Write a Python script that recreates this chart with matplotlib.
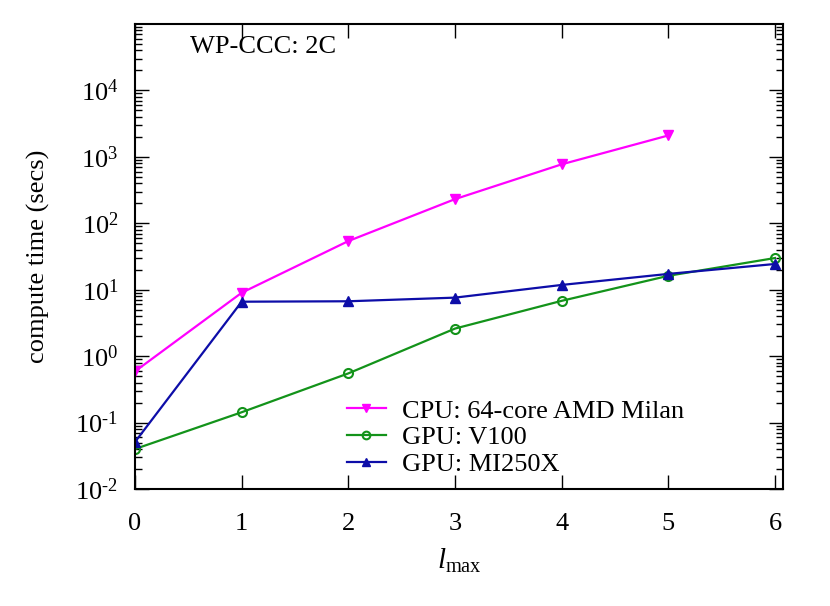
import numpy as np
import matplotlib
matplotlib.use('Agg')
import matplotlib.pyplot as plt
from matplotlib.ticker import LogLocator, NullFormatter

plt.rcParams['font.family'] = ['Liberation Serif', 'DejaVu Serif']
plt.rcParams['mathtext.fontset'] = 'custom'
plt.rcParams['mathtext.rm'] = 'Liberation Serif'
plt.rcParams['mathtext.it'] = 'Liberation Serif:italic'

lmax = [0, 1, 2, 3, 4, 5, 6]
cpu_lmax = [0, 1, 2, 3, 4, 5]
cpu_milan = [0.59, 9.0, 54, 231, 772, 2100]
gpu_v100 = [0.040, 0.143, 0.55, 2.6, 6.8, 16.2, 30]
gpu_mi250x = [0.051, 6.6, 6.7, 7.6, 11.8, 17.3, 24.4]
ytick_vals = [1e-2, 1e-1, 1e0, 1e1, 1e2, 1e3, 1e4]
ytick_labels = ['10$^{\\text{-}2}$', '10$^{\\text{-}1}$', '10$^{0}$', '10$^{1}$',
                '10$^{2}$', '10$^{3}$', '10$^{4}$']

fig = plt.figure(figsize=(8.3, 6.06), dpi=100)
ax = fig.add_axes([135/830, 1 - 489/606, 648/830, 465/606])

ax.plot(cpu_lmax, cpu_milan, color='#ff00ff', marker='v', ms=7, lw=1.6,
        label='CPU: 64-core AMD Milan')
ax.plot(lmax, gpu_v100, color='#13931a', marker='o', ms=6.5, mfc='none', mew=1.5, lw=1.6,
        label='GPU: V100')
ax.plot(lmax, gpu_mi250x, color='#0d0da8', marker='^', ms=7, lw=1.6,
        label='GPU: MI250X')

ax.set_yscale('log')
ax.set_ylim(1e-2, 1e5)
ax.set_xlim(0, 6.075)
ax.set_xticks(lmax)
ax.set_yticks(ytick_vals)
ax.set_yticklabels(ytick_labels)
ax.yaxis.set_minor_locator(LogLocator(base=10, subs=np.arange(2, 10), numticks=20))
ax.yaxis.set_minor_formatter(NullFormatter())

ax.tick_params(which='both', direction='in', top=True, right=True, labelsize=19, width=1)
ax.tick_params(which='major', length=10)
ax.tick_params(axis='x', which='major', pad=17)
ax.tick_params(axis='y', which='major', pad=12)
ax.tick_params(which='minor', length=5)
for s in ax.spines.values():
    s.set_linewidth(1.5)

ax.set_xlabel('$l_{\\mathrm{max}}$', fontsize=21, va='top')
ax.xaxis.set_label_coords(0.5, -0.125)
ax.set_ylabel('compute time (secs)', fontsize=19)
ax.yaxis.set_label_coords(-0.131, 0.5)

ax.text(0.085, 0.95, 'WP-CCC: 2C', transform=ax.transAxes, fontsize=19,
        ha='left', va='center')

ax.legend(loc='lower left', bbox_to_anchor=(0.29, -0.023), frameon=False,
          fontsize=19, handlelength=1.5, handletextpad=0.6, labelspacing=0.12,
          markerscale=0.85)

fig.savefig('out.png', dpi=100)
